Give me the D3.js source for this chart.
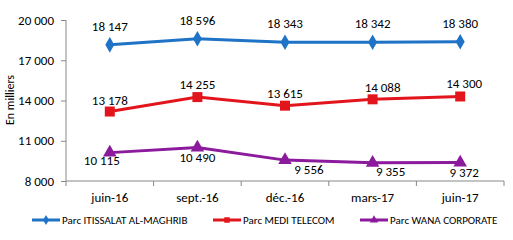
<!DOCTYPE html>
<html><head><meta charset="utf-8">
<script src="https://cdn.jsdelivr.net/npm/d3@7"></script>
<style>
body{margin:0;background:#fff;}
text{font-family:Carlito,Lato,"Open Sans",sans-serif;fill:#000;}
</style></head>
<body><svg id="c" width="513" height="240"></svg>
<script>
const categories = ["juin-16","sept.-16","déc.-16","mars-17","juin-17"];
const itissalat = [18147,18596,18343,18342,18380];
const medi = [13178,14255,13615,14088,14300];
const wana = [10115,10490,9556,9355,9372];
const yTicks = [8000,11000,14000,17000,20000];
const seriesNames = ["Parc ITISSALAT AL-MAGHRIB","Parc MEDI TELECOM","Parc WANA CORPORATE"];

const colors = ["#1f73c6","#e3151c","#8b1a9c"];
const fmt = v => d3.format(",")(v).replace(/,/g," ");
const svg = d3.select("#c");
const x = d3.scaleBand().domain(categories).range([66,504]);
const y = d3.scaleLinear().domain([8000,20000]).range([181,20]);
const cx = c => x(c)+x.bandwidth()/2;

// y axis
const ya = svg.append("g").attr("transform","translate(66,0)")
  .call(d3.axisLeft(y).tickValues(yTicks).tickSize(5).tickPadding(7).tickFormat(fmt));
ya.select(".domain").attr("stroke","#888").attr("d","M0,20V181");
ya.selectAll(".tick line").attr("stroke","#888");
ya.selectAll("text").attr("font-size",13).style("font-family","Carlito,Lato,sans-serif");

// x axis
const xa = svg.append("g").attr("transform","translate(0,181)")
  .call(d3.axisBottom(x).tickSize(0).tickPadding(12));
xa.select(".domain").attr("stroke","#888").attr("d","M66,0H504");
xa.selectAll("text").attr("font-size",13).style("font-family","Carlito,Lato,sans-serif");
const bounds = categories.map(c=>x(c)).concat([504]);
svg.append("g").selectAll("line").data(bounds).join("line")
  .attr("x1",d=>d).attr("x2",d=>d).attr("y1",181).attr("y2",186).attr("stroke","#888");

// y title
svg.append("text").attr("transform","translate(14,100) rotate(-90)")
  .attr("text-anchor","middle").attr("font-size",12).text("En milliers");

const series = [itissalat, medi, wana];
const markers = [d3.symbolDiamond, d3.symbolSquare, d3.symbolTriangle];
const msize = [70, 100, 80];
// label layout offsets (dx, dy relative to point)
const lblOff = [
  [[0,-14],[0,-14],[0,-14],[0,-14],[0,-14]],
  [[0,-7],[0,-8],[0,-8],[10,-7],[4,-8]],
  [[-8,12],[0,14],[24,14],[18,13],[4,14]]
];
series.forEach((vals,si)=>{
  const pts = vals.map((v,i)=>[cx(categories[i]), y(v)]);
  svg.append("path").attr("d",d3.line()(pts)).attr("fill","none")
    .attr("stroke",colors[si]).attr("stroke-width",3);
  svg.append("g").selectAll("path").data(pts).join("path")
    .attr("transform",d=>`translate(${d[0]},${d[1]})`)
    .attr("d",d3.symbol(markers[si],msize[si])).attr("fill",colors[si]);
  svg.append("g").selectAll("text").data(vals).join("text")
    .attr("x",(d,i)=>pts[i][0]+lblOff[si][i][0])
    .attr("y",(d,i)=>pts[i][1]+lblOff[si][i][1])
    .attr("text-anchor","middle").attr("font-size",13).text(d=>fmt(d));
});

// legend
const legX = [32,213,360];
const legW = [150,88,105];
seriesNames.forEach((n,si)=>{
  const g = svg.append("g").attr("transform",`translate(${legX[si]},220)`);
  g.append("line").attr("x1",0).attr("x2",28).attr("stroke",colors[si]).attr("stroke-width",3);
  g.append("path").attr("transform","translate(14,0)").attr("d",d3.symbol(markers[si],30)).attr("fill",colors[si]);
  g.append("text").attr("x",30).attr("y",4).attr("font-size",11).text(n);
});
</script></body></html>
